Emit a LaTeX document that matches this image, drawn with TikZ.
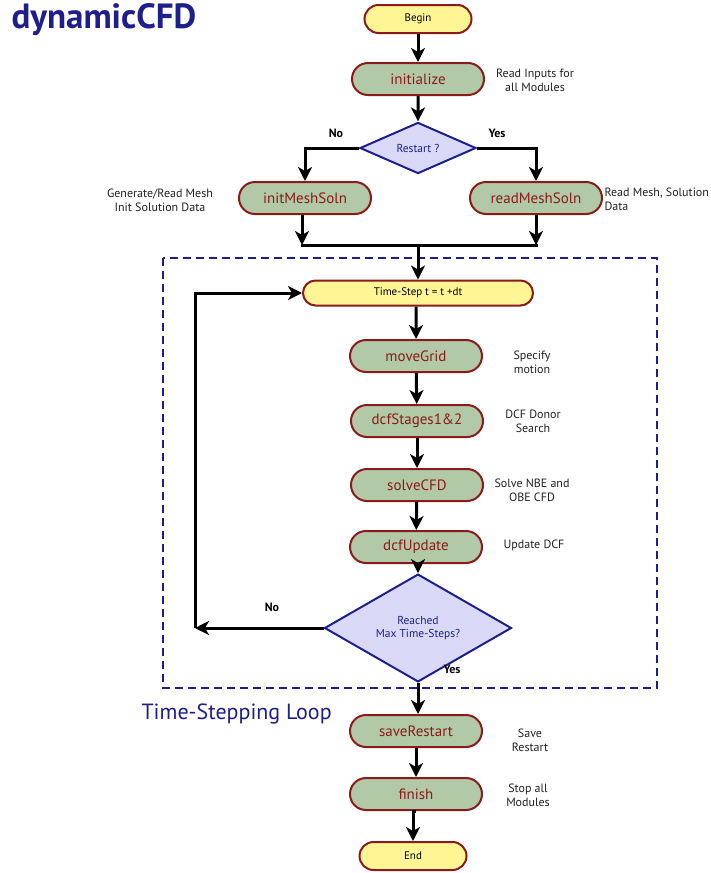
\documentclass[tikz,border=0pt]{standalone}
\usepackage{fontspec}
\setmainfont{PT Sans}
\usetikzlibrary{shapes.misc,shapes.geometric,arrows.meta}
\definecolor{boxborder}{HTML}{8B1A1A}
\definecolor{termfill}{HTML}{FFF595}
\definecolor{procfill}{HTML}{B2C9A8}
\definecolor{decfill}{HTML}{D9D9F7}
\definecolor{navy}{HTML}{1E1E8C}
\definecolor{notegray}{HTML}{222222}
\begin{document}
\begin{tikzpicture}[x=1pt,y=-1pt,
  term/.style={rounded rectangle, draw=boxborder, line width=2pt, fill=termfill,
    minimum width=107pt, minimum height=28pt, inner sep=0pt, font=\fontsize{11}{12}\selectfont},
  proc/.style={rounded rectangle, draw=boxborder, line width=2pt, fill=procfill,
    minimum width=132pt, minimum height=32pt, inner sep=0pt, text=boxborder,
    font=\fontsize{15}{16}\selectfont},
  dec/.style={diamond, draw=navy, line width=2pt, fill=decfill, inner sep=0pt,
    text=navy, align=center, font=\fontsize{11.5}{13}\selectfont},
  note/.style={align=center, text=notegray, font=\fontsize{12}{14}\selectfont},
  lbl/.style={font=\bfseries\fontsize{12}{13}\selectfont},
  arr/.style={line width=3pt, -{Stealth[length=14pt,width=14pt,inset=4pt]}},
  ln/.style={line width=3pt},
]
\useasboundingbox (0,0) rectangle (711,873);

% title
\node[anchor=west, text=navy, font=\bfseries\fontsize{35}{36}\selectfont] (title) at (8,20) {dynamicCFD};

% loop frame
\draw[navy, line width=1.6pt, dash pattern=on 8pt off 5pt] (163,258) rectangle (657,688);
\node[anchor=west, text=navy, font=\fontsize{22}{24}\selectfont] (looplbl) at (138,714) {Time-Stepping Loop};

% start-up sequence
\node[term] (begin) at (418,19) {Begin};
\node[proc] (init) at (418,79) {initialize};
\node[note] (initn) at (535,80) {Read Inputs for\\all Modules};
\node[dec, minimum width=116pt, minimum height=36pt] (restart) at (418,148) {Restart ?};
\node[proc] (initmesh) at (305,198) {initMeshSoln};
\node[proc] (readmesh) at (536,198) {readMeshSoln};
\node[note] (initmeshn) at (160,200) {Generate/Read Mesh\\Init Solution Data};
\node[note, anchor=west, align=left] (readmeshn) at (601,199) {Read Mesh, Solution\\Data};
\node[lbl] (no1) at (336,133) {No};
\node[lbl] (yes1) at (497,133) {Yes};

\coordinate (m1) at (302,245);
\coordinate (m2) at (536,245);
\coordinate (mc) at (418,245);

% time-step loop
\node[term, minimum width=230pt, minimum height=25pt] (tstep) at (418,293) {Time-Step t = t +dt};
\node[proc] (move) at (416,356) {moveGrid};
\node[note] (moven) at (532,362) {Specify\\motion};
\node[proc] (dcf) at (417,421) {dcfStages1\&2};
\node[note] (dcfn) at (533,421) {DCF Donor\\Search};
\node[proc] (solve) at (417,485) {solveCFD};
\node[note] (solven) at (532,490) {Solve NBE and\\OBE CFD};
\node[proc] (update) at (416,547) {dcfUpdate};
\node[note] (updaten) at (534,545) {Update DCF};
\node[dec, minimum width=187pt, minimum height=72pt] (reached) at (418,628) {Reached\\Max Time-Steps?};
\node[lbl] (no2) at (272,607) {No};
\node[lbl] (yes2) at (452,669) {Yes};
\coordinate (lp) at (195,628);

% wrap-up sequence
\node[proc] (save) at (416,731) {saveRestart};
\node[note] (saven) at (530,740) {Save\\Restart};
\node[proc] (finish) at (416,794) {finish};
\node[note] (finishn) at (528,795) {Stop all\\Modules};
\node[term] (end) at (413,856) {End};

% connectors
\draw[arr] (begin) -- (init);
\draw[arr] (init) -- (restart);
\draw[arr] (restart.west) -| (initmesh.north);
\draw[arr] (restart.east) -| (readmesh.north);
\draw[arr] (initmesh.south -| m1) -- (m1);
\draw[arr] (readmesh.south -| m2) -- (m2);
\draw[ln, line cap=rect] (m1) -- (m2);
\draw[arr] (mc) -- (tstep.north);
\draw[arr] (tstep.south -| move) -- (move);
\draw[arr] (move) -- (dcf);
\draw[arr] (dcf) -- (solve);
\draw[arr] (solve) -- (update);
\draw[arr] (update.south -| reached) -- (reached);
\draw[arr] (reached.west) -- (lp);
\draw[arr] (lp) |- (tstep.west);
\draw[arr] (reached.south) -- (reached.south |- save.north);
\draw[arr] (save) -- (finish);
\draw[arr] (finish.south) -- (finish.south -| end) -- (end);
\end{tikzpicture}
\end{document}
